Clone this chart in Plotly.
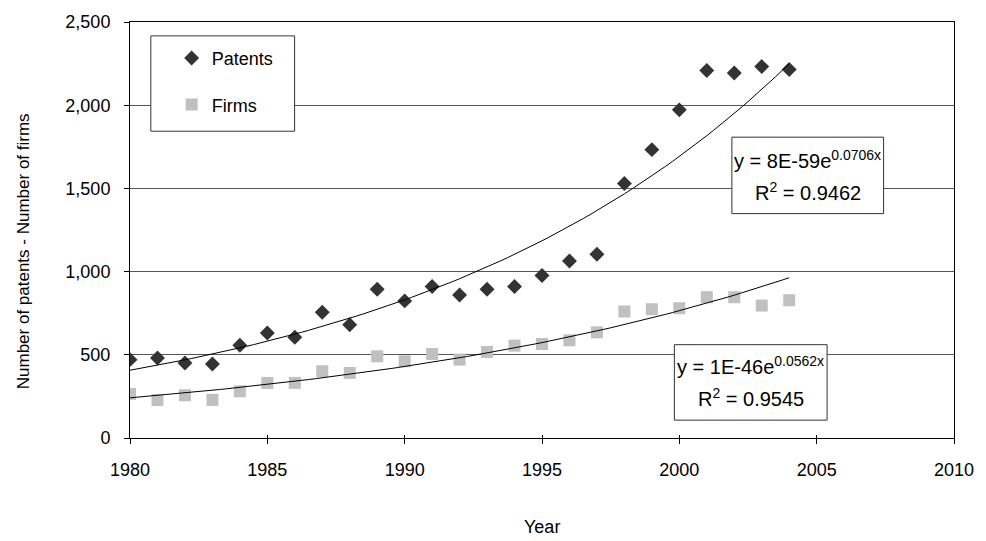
import numpy as np
import plotly.graph_objects as go

years = list(range(1980, 2005))
patents = [471, 481, 451, 445, 557, 631, 605, 756, 681, 894, 824,
           910, 860, 894, 910, 976, 1064, 1104, 1529, 1733, 1972,
           2208, 2194, 2232, 2214]
firms = [265, 228, 257, 229, 281, 331, 331, 401, 391, 491, 461,
         505, 471, 517, 555, 565, 587, 635, 760, 774, 780,
         846, 846, 796, 828]
y_ticks = [0, 500, 1000, 1500, 2000, 2500]
x_ticks = [1980, 1985, 1990, 1995, 2000, 2005, 2010]

eq_patents = ("y = 8E-59e<sup>0.0706x</sup>", "R<sup>2</sup> = 0.9462")
eq_firms = ("y = 1E-46e<sup>0.0562x</sup>", "R<sup>2</sup> = 0.9545")

FONT = "Liberation Sans, Arial, sans-serif"
W, H = 986, 541
ML, MR, MT, MB = 130, 25, 19, 103
PW, PH = W - ML - MR, H - MT - MB


def px(xp):
    return (xp - ML) / PW


def py(yp):
    return (H - MB - yp) / PH


def exp_fit(x, y):
    b, a = np.polyfit(np.array(x, float), np.log(np.array(y, float)), 1)
    xs = np.linspace(min(x), max(x), 97)
    return xs, np.exp(a + b * xs)


fig = go.Figure()
fig.add_trace(go.Scatter(x=years, y=patents, mode="markers", name="Patents",
                         legendgroup="p",
                         marker=dict(symbol="diamond", size=11.5, color="#333333")))
fig.add_trace(go.Scatter(x=years, y=firms, mode="markers", name="Firms",
                         legendgroup="f",
                         marker=dict(symbol="square", size=12, color="#c0c0c0")))
for ser in (patents, firms):
    xs, ys = exp_fit(years, ser)
    fig.add_trace(go.Scatter(x=xs, y=ys, mode="lines", showlegend=False,
                             line=dict(color="black", width=1), hoverinfo="skip"))
# invisible trace on the overlay axis so its inside tick marks get drawn
fig.add_trace(go.Scatter(x=[x_ticks[0]], y=[y_ticks[0]], xaxis="x2", mode="markers",
                         marker=dict(opacity=0), showlegend=False, hoverinfo="skip"))

shapes = []
annotations = []
# legend box
shapes.append(dict(type="rect", xref="paper", yref="paper", layer="above",
                   x0=px(151), x1=px(296), y0=py(129), y1=py(33),
                   line=dict(color="#333333", width=1), fillcolor="white"))
# equation boxes
for (x0, x1, y0, y1, l1y, l2y, txt) in [
        (737, 890, 135, 212, 157, 190, eq_patents),
        (679, 833, 344, 420, 365, 397, eq_firms)]:
    shapes.append(dict(type="rect", xref="paper", yref="paper", layer="above",
                       x0=px(x0), x1=px(x1), y0=py(y1), y1=py(y0),
                       line=dict(color="#333333", width=1), fillcolor="white"))
    cx = px((x0 + x1) / 2)
    annotations.append(dict(xref="paper", yref="paper", x=cx, y=py(l1y),
                            text=txt[0], showarrow=False, xanchor="center",
                            yanchor="middle", font=dict(family=FONT, size=20, color="black")))
    annotations.append(dict(xref="paper", yref="paper", x=cx, y=py(l2y),
                            text=txt[1], showarrow=False, xanchor="center",
                            yanchor="middle", font=dict(family=FONT, size=20, color="black")))

annotations.append(dict(xref="paper", yref="paper", x=px(22), y=py(250),
                        text="Number of patents - Number of firms", textangle=-90,
                        showarrow=False, xanchor="center", yanchor="middle",
                        font=dict(family=FONT, size=17, color="black")))
annotations.append(dict(xref="paper", yref="paper", x=0.5, y=py(528),
                        text="Year", showarrow=False, xanchor="center", yanchor="middle",
                        font=dict(family=FONT, size=18, color="black")))

fig.update_layout(
    width=W, height=H,
    margin=dict(l=ML, r=MR, t=MT, b=MB, pad=0),
    paper_bgcolor="white", plot_bgcolor="white",
    font=dict(family=FONT, size=18, color="black"),
    showlegend=True,
    legend=dict(x=px(172), y=py(37), xanchor="left", yanchor="top",
                bgcolor="rgba(0,0,0,0)", borderwidth=0, tracegroupgap=20,
                font=dict(family=FONT, size=18, color="black")),
    shapes=shapes, annotations=annotations,
    xaxis=dict(range=[1980, 2010], tickmode="array", tickvals=x_ticks,
               ticks="outside", ticklen=5, tickcolor="black", showgrid=False,
               zeroline=False, showline=True, linecolor="black", linewidth=1,
               mirror=True, ticklabelstandoff=10,
               tickfont=dict(family=FONT, size=18, color="black")),
    xaxis2=dict(range=[1980, 2010], tickmode="array", tickvals=x_ticks,
                overlaying="x", side="bottom", anchor="y",
                ticks="inside", ticklen=3, tickcolor="black", showgrid=False,
                zeroline=False, showline=False, showticklabels=False),
    yaxis=dict(range=[0, 2500], tickmode="array", tickvals=y_ticks,
               tickformat=",", ticks="outside", ticklen=5, tickcolor="black",
               showgrid=True, gridcolor="#555555", gridwidth=1,
               zeroline=False, showline=True, linecolor="black", linewidth=1,
               mirror=True, ticklabelstandoff=10,
               tickfont=dict(family=FONT, size=18, color="black")),
)

fig.write_html("out.html")
